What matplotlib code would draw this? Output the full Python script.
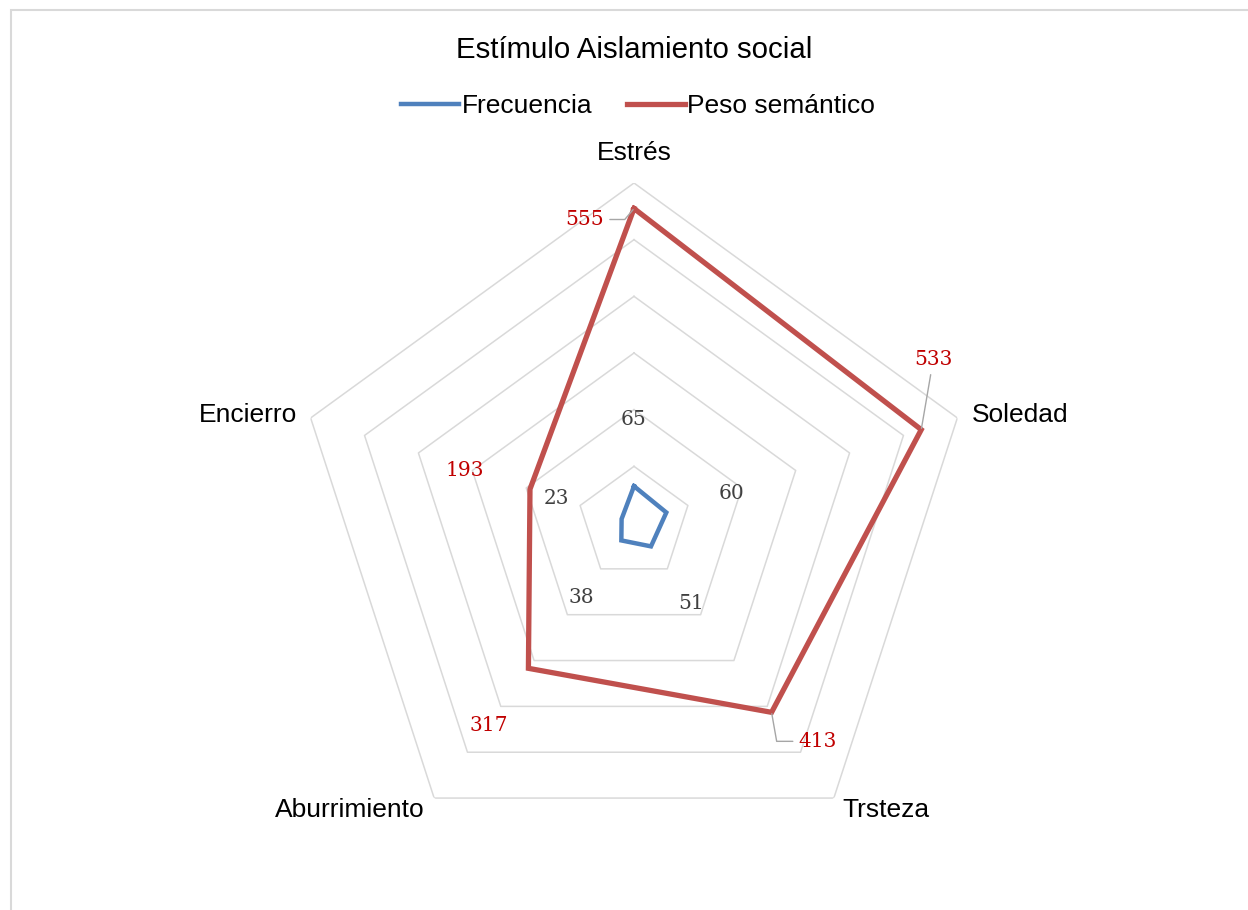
import numpy as np
import matplotlib
matplotlib.use("Agg")
import matplotlib.pyplot as plt
from matplotlib.patches import Rectangle

# ------------------------------------------------------------
# data
# ------------------------------------------------------------
TITLE = "Estímulo Aislamiento social"
categories = ["Estrés", "Soledad", "Trsteza", "Aburrimiento", "Encierro"]
frecuencia = [65, 60, 51, 38, 23]
peso_semantico = [555, 533, 413, 317, 193]
ring_values = [100, 200, 300, 400, 500, 600]
R_MAX = 600

# ------------------------------------------------------------
# style
# ------------------------------------------------------------
W, H, DPI = 1248, 910, 100
BLUE = "#4f81bd"
RED = "#c0504d"
GRID = "#d9d9d9"
LABEL_RED = "#c00000"
LABEL_GRAY = "#404040"
SANS = "Liberation Sans"
SERIF = "DejaVu Serif"

PX = 72.0 / DPI   # pixels -> points

# label offsets in pixels (dx, dy)
FREQ_OFFSETS = [(0, 67), (65, 19), (40, -57), (-40, -57), (-65, 20)]
PESO_OFFSETS = [(-49, -11), (12, 70), (46, -29), (-40, -57), (-65, 19)]
CAT_OFFSETS = [(0, 30), (63, 3), (52, -12), (-84, -12), (-63, 3)]

plt.rcParams["font.family"] = [SANS, "DejaVu Sans"]

fig = plt.figure(figsize=(W / DPI, H / DPI), dpi=DPI)

# centre of radar at (634, 523) px, radius 340 px
cx, cy, rad = 634, 523, 340
ax = fig.add_axes([(cx - rad) / W, (H - cy - rad) / H, 2 * rad / W, 2 * rad / H],
                  projection="polar")
ax.set_theta_offset(np.pi / 2)
ax.set_theta_direction(-1)
ax.set_ylim(0, R_MAX)
ax.grid(False)
ax.spines["polar"].set_visible(False)
ax.set_xticks([])
ax.set_yticks([])
ax.patch.set_alpha(0)

n = len(categories)
theta = np.arange(n) * 2 * np.pi / n
theta_c = np.append(theta, theta[0])

# polygon gridlines
for r in ring_values:
    ax.plot(theta_c, [r] * (n + 1), color=GRID, lw=1.1, zorder=1)

# series
ax.plot(theta_c, frecuencia + frecuencia[:1], color=BLUE, lw=3.2,
        solid_joinstyle="miter", zorder=3, label="Frecuencia")
ax.plot(theta_c, peso_semantico + peso_semantico[:1], color=RED, lw=3.8,
        solid_joinstyle="miter", zorder=4, label="Peso semántico")

# data labels
for t, v, (dx, dy) in zip(theta, frecuencia, FREQ_OFFSETS):
    ax.annotate(str(v), xy=(t, v), xytext=(dx * PX, dy * PX),
                textcoords="offset points", ha="center", va="center",
                fontsize=14.5, family=SERIF, color=LABEL_GRAY,
                annotation_clip=False, zorder=6)

leader = dict(arrowstyle="-", color="#a6a6a6", lw=1.0, shrinkA=2, shrinkB=1)
for i, (t, v, (dx, dy)) in enumerate(zip(theta, peso_semantico, PESO_OFFSETS)):
    ap = None
    if i == 0:
        ap = dict(leader, connectionstyle="angle,angleA=0,angleB=50,rad=0")
    elif i == 1:
        ap = dict(leader)
    elif i == 2:
        ap = dict(leader, connectionstyle="angle,angleA=0,angleB=100,rad=0")
    ax.annotate(str(v), xy=(t, v), xytext=(dx * PX, dy * PX),
                textcoords="offset points", ha="center", va="center",
                fontsize=14.5, family=SERIF, color=LABEL_RED,
                arrowprops=ap, annotation_clip=False, zorder=6)

# category labels
for t, name, (dx, dy) in zip(theta, categories, CAT_OFFSETS):
    ax.annotate(name, xy=(t, R_MAX), xytext=(dx * PX, dy * PX),
                textcoords="offset points", ha="center", va="center",
                fontsize=19, color="black", annotation_clip=False)

# title + legend
fig.text(634 / W, 1 - 50 / H, TITLE, ha="center", va="center",
         fontsize=21.2, color="black")
handles, labels = ax.get_legend_handles_labels()
fig.legend(handles, labels, loc="center", bbox_to_anchor=(638 / W, 1 - 106 / H),
           ncol=2, frameon=False, fontsize=19, handlelength=2.2,
           handletextpad=0.1, columnspacing=1.3)

# chart border (only left and top visible in the crop)
fig.patches.append(Rectangle((10.5 / W, -0.1), 1.2, 1.1 - 10 / H,
                             transform=fig.transFigure, fill=False,
                             edgecolor=GRID, lw=1.5))

fig.savefig("out.png", dpi=DPI)
